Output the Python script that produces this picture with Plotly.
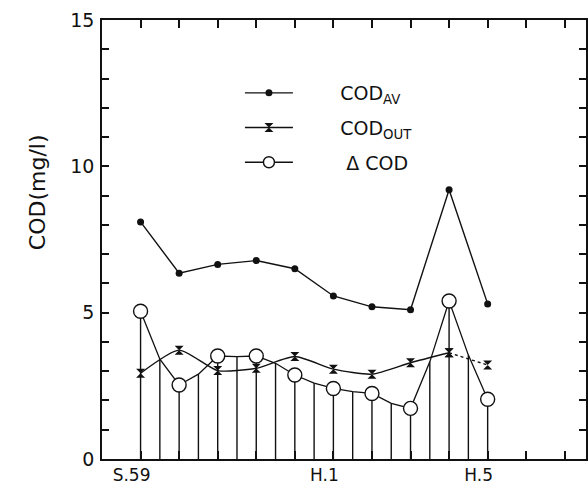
import plotly.graph_objects as go

# x positions: years from S.59 (0) ; half-year steps for ΔCOD
years = [0, 1, 2, 3, 4, 5, 6, 7, 8, 9]
half_years = [0, 0.5, 1, 1.5, 2, 2.5, 3, 3.5, 4, 4.5, 5, 5.5, 6, 6.5, 7, 7.5, 8, 8.5, 9]

cod_av = [8.1, 6.35, 6.65, 6.78, 6.5, 5.57, 5.2, 5.1, 9.2, 5.3]
cod_out = [2.93, 3.72, 3.02, 3.10, 3.50, 3.07, 2.90, 3.29, 3.63, 3.21]
delta_cod = [5.05, 3.41, 2.53, 2.90, 3.52, 3.50, 3.52, 3.27, 2.87, 2.59,
             2.41, 2.30, 2.24, 1.90, 1.73, 3.32, 5.4, 3.55, 2.04]

x_tickvals = [0, 5, 9]
x_ticktext = ["S.59", "H.1", "H.5"]
y_tickvals = [0, 5, 10, 15]
y_ticktext = ["0", "5", "10", "15"]

FONT = "DejaVu Sans"
INK = "#111111"
PAD = "\u00a0" * 7

fig = go.Figure()

# vertical drop lines from ΔCOD to zero
drop_x, drop_y = [], []
for xv, yv in zip(half_years, delta_cod):
    drop_x += [xv, xv, None]
    drop_y += [0, yv, None]
fig.add_trace(go.Scatter(x=drop_x, y=drop_y, mode="lines",
                         line=dict(color=INK, width=1.4),
                         showlegend=False, hoverinfo="skip"))

# COD_AV
fig.add_trace(go.Scatter(x=years, y=cod_av, mode="lines+markers",
                         name=PAD + "COD<sub>AV</sub>", legendgroup="a",
                         line=dict(color=INK, width=1.4),
                         marker=dict(symbol="circle", size=7, color=INK)))

# COD_OUT (last segment dotted)
fig.add_trace(go.Scatter(x=years[:-1], y=cod_out[:-1], mode="lines+markers",
                         name=PAD + "COD<sub>OUT</sub>", legendgroup="b",
                         line=dict(color=INK, width=1.4, shape="spline", smoothing=0.6),
                         marker=dict(symbol="hourglass", size=9, color=INK)))
fig.add_trace(go.Scatter(x=years[-2:], y=cod_out[-2:], mode="lines+markers",
                         showlegend=False,
                         line=dict(color=INK, width=1.4, dash="dot"),
                         marker=dict(symbol="hourglass", size=9, color=INK)))

# ΔCOD line through half-year points
fig.add_trace(go.Scatter(x=half_years, y=delta_cod, mode="lines",
                         showlegend=False, line=dict(color=INK, width=1.3)))
# ΔCOD circles at yearly points
fig.add_trace(go.Scatter(x=half_years[::2], y=delta_cod[::2], mode="markers",
                         showlegend=False,
                         marker=dict(symbol="circle", size=14, color="white",
                                     line=dict(color=INK, width=1.4))))
# legend entry for ΔCOD
fig.add_trace(go.Scatter(x=[None], y=[None], mode="lines+markers",
                         name=PAD + "\u00a0Δ COD", legendgroup="c",
                         line=dict(color=INK, width=1.4),
                         marker=dict(symbol="circle", size=11, color="white",
                                     line=dict(color=INK, width=1.4))))

fig.add_annotation(text="COD(mg/l)", textangle=-90, showarrow=False,
                   xref="paper", yref="paper", x=-0.163, y=0.607,
                   font=dict(family=FONT, size=22, color=INK))

fig.update_layout(
    width=588, height=486,
    margin=dict(l=102, r=2, t=20, b=27),
    paper_bgcolor="white", plot_bgcolor="white",
    font=dict(family=FONT, size=19, color=INK),
    showlegend=True,
    legend=dict(xref="paper", yref="paper", x=0.285, y=0.877,
                xanchor="left", yanchor="top", bgcolor="rgba(0,0,0,0)",
                itemwidth=48, tracegroupgap=7, traceorder="grouped",
                font=dict(family=FONT, size=19, color=INK)),
    xaxis=dict(range=[-1, 11.55], tickmode="array", tickvals=x_tickvals,
               ticktext=x_ticktext, ticks="inside", ticklen=8, tickwidth=1.5,
               tickcolor=INK, showline=True, linecolor=INK, linewidth=1.5,
               mirror="ticks", showgrid=False, zeroline=False, automargin=False,
               ticklabelshift=-9, ticklabelstandoff=0,
               tickfont=dict(family=FONT, size=17, color=INK),
               minor=dict(tick0=0, dtick=1, ticks="inside", ticklen=8,
                          tickwidth=1.5, tickcolor=INK, showgrid=False)),
    yaxis=dict(range=[0, 15], tickmode="array", tickvals=y_tickvals,
               ticktext=y_ticktext, ticks="inside", ticklen=7, tickwidth=1.5,
               tickcolor=INK, showline=True, linecolor=INK, linewidth=1.5,
               mirror="ticks", showgrid=False, zeroline=False, automargin=False,
               ticklabelstandoff=2,
               minor=dict(tick0=0, dtick=1, ticks="inside", ticklen=7,
                          tickwidth=1.5, tickcolor=INK, showgrid=False)),
)

fig.write_html("out.html")
